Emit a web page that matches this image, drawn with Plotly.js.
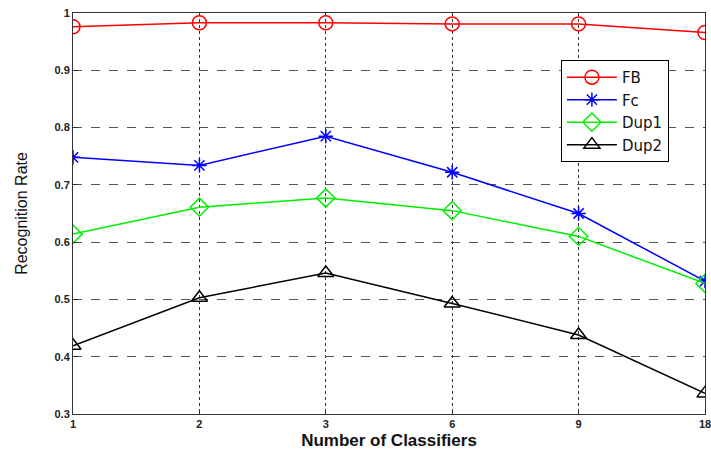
<!DOCTYPE html>
<html><head><meta charset="utf-8">
<script src="https://cdn.plot.ly/plotly-3.0.1.min.js"></script>
<style>body{margin:0;background:#fff}#c{width:711px;height:450px}</style>
</head><body><div id="c"></div>
<script>
var categories = ['1','2','3','6','9','18'];
var fb   = [0.976, 0.983, 0.983, 0.981, 0.981, 0.966];
var fc   = [0.748, 0.734, 0.785, 0.722, 0.650, 0.532];
var dup1 = [0.614, 0.661, 0.677, 0.655, 0.610, 0.528];
var dup2 = [0.419, 0.503, 0.546, 0.493, 0.438, 0.336];
var yTicks = [0.3,0.4,0.5,0.6,0.7,0.8,0.9,1];
var yTickText = ['0.3','0.4','0.5','0.6','0.7','0.8','0.9','1'];

function tr(name, y, color, sym, size){
  return {x: categories, y: y, name: name, type:'scatter', mode:'lines+markers',
    line:{color:color, width:1.5},
    marker:{symbol:sym, size:size, color:color, line:{color:color, width:1.5}}};
}
var data = [
  tr('FB', fb, '#ff0000', 'circle-open', 14),
  tr('Fc', fc, '#0000ff', 'asterisk-open', 12),
  tr('Dup1', dup1, '#00ee00', 'diamond-open', 14),
  tr('Dup2', dup2, '#000000', 'triangle-up-open', 14)
];
var tickFont = {family:'Liberation Sans, Arial, sans-serif', size:11, color:'#222', weight:'bold'};
var layout = {
  width:711, height:450,
  margin:{l:73, r:6, t:13, b:36},
  paper_bgcolor:'#fff', plot_bgcolor:'#fff',
  showlegend:true,
  legend:{x:0.772, y:0.883, xanchor:'left', yanchor:'top',
    bgcolor:'#fff', bordercolor:'#000', borderwidth:1,
    font:{family:'DejaVu Sans, Arial, sans-serif', size:15, color:'#111'},
    itemwidth:50,
    tracegroupgap:0},
  xaxis:{type:'category', range:[0,5], showline:true, mirror:true, linecolor:'#333', linewidth:1,
    ticks:'inside', ticklen:5, tickcolor:'#333',
    showgrid:true, gridcolor:'#333', griddash:'dot', gridwidth:1,
    tickfont:tickFont, zeroline:false,
    title:{text:'<b>Number of Classifiers</b>', standoff:8,
      font:{family:'Liberation Sans, Arial, sans-serif', size:17, color:'#111'}}},
  yaxis:{range:[0.3,1], showline:true, mirror:true, linecolor:'#333', linewidth:1,
    ticks:'inside', ticklen:5, tickcolor:'#333',
    tickvals:yTicks, ticktext:yTickText,
    showgrid:true, gridcolor:'#555', griddash:'dash', gridwidth:1,
    tickfont:tickFont, zeroline:false,
    title:{text:'Recognition Rate', standoff:22,
      font:{family:'Liberation Sans, Arial, sans-serif', size:16, color:'#111'}}}
};
Plotly.newPlot('c', data, layout, {displayModeBar:false, staticPlot:true});
</script></body></html>
